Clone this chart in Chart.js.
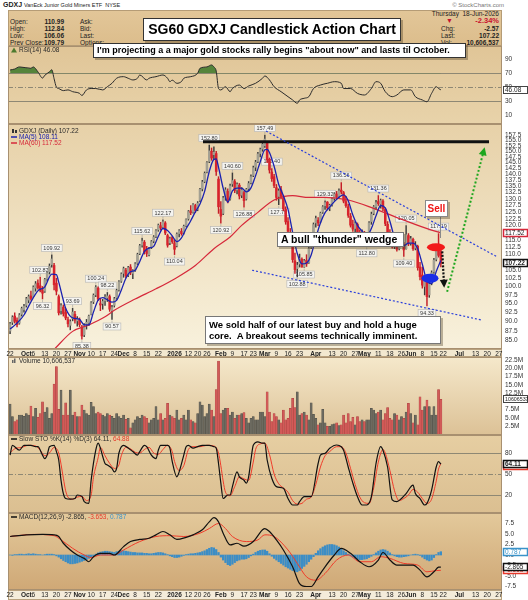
<!DOCTYPE html>
<html lang="en">
<head>
<meta charset="utf-8">
<title>SG60 GDXJ Candlestick Action Chart</title>
<script src="https://cdn.jsdelivr.net/npm/chart.js@4.4.1/dist/chart.umd.min.js"></script>
<style>
  body { margin: 0; width: 528px; height: 600px; position: relative; overflow: hidden; background: #fff;
         font-family: "Liberation Sans", Arial, Helvetica, sans-serif; color: #222; }
  canvas { position: absolute; left: 0; }
  .t { position: absolute; white-space: nowrap; font-size: 6.5px; line-height: 8px; }
  .b { font-weight: bold; }
  .note { position: absolute; background: #fff; border: 1px solid #333; box-shadow: 2px 2px 0 rgba(70,55,30,.35);
          font-weight: bold; color: #000; white-space: nowrap; box-sizing: border-box; z-index: 5; }
  #hdr { position: absolute; left: 8px; top: 10px; width: 494px; height: 36px; box-sizing: border-box;
         background: linear-gradient(#e2c698, #dcbd8c); border: 1px solid #b59c76; }
</style>
</head>
<body>

<!-- header -->
<div class="t" style="left:3px;top:1px;font-size:7px"><b>GDXJ</b> <span style="font-size:5.5px">VanEck Junior Gold Miners ETF&nbsp; NYSE</span></div>
<div class="t" style="right:24px;top:1px;font-size:6px;color:#777">© StockCharts.com</div>
<div id="hdr"></div>
<div class="t" style="left:10px;top:18px">Open:</div><div class="t b" style="left:36px;width:28px;top:18px;text-align:right">110.99</div>
<div class="t" style="left:10px;top:25px">High:</div><div class="t b" style="left:36px;width:28px;top:25px;text-align:right">112.84</div>
<div class="t" style="left:10px;top:32px">Low:</div><div class="t b" style="left:36px;width:28px;top:32px;text-align:right">106.06</div>
<div class="t" style="left:10px;top:39px">Prev Close:</div><div class="t b" style="left:36px;width:28px;top:39px;text-align:right">109.79</div>
<div class="t" style="left:80px;top:18px">Ask:</div>
<div class="t" style="left:80px;top:25px">Bid:</div>
<div class="t" style="left:80px;top:32px">Last:</div>
<div class="t" style="left:80px;top:39px">Options:</div>
<div class="t" style="right:29px;top:10px">Thursday&nbsp; 18-Jun-2026</div>
<div class="t" style="left:446px;top:17px;color:#c8102e;font-size:7px">▼</div>
<div class="t b" style="right:29px;top:17px;color:#c8102e;font-size:7.5px">-2.34%</div>
<div class="t" style="left:441px;top:25px">Chg:</div><div class="t b" style="right:29px;top:25px">-2.57</div>
<div class="t" style="left:441px;top:32px">Last:</div><div class="t b" style="right:29px;top:32px">107.22</div>
<div class="t" style="left:441px;top:39px">Vol:</div><div class="t b" style="right:29px;top:39px">10,606,537</div>

<!-- panels -->
<canvas id="rsi" width="528" height="88" style="top:41px"></canvas>
<canvas id="price" width="528" height="238" style="top:119px"></canvas>
<canvas id="vol" width="528" height="88" style="top:352px"></canvas>
<canvas id="sto" width="528" height="88" style="top:430px"></canvas>
<canvas id="macd" width="528" height="92" style="top:508px"></canvas>

<!-- notes drawn on the chart -->
<div class="note" style="left:143px;top:18px;width:258px;height:23px;font-size:14px;line-height:21px;text-align:center">SG60 GDXJ Candlestick Action Chart</div>
<div class="note" style="left:93px;top:43px;width:373px;height:15px;font-size:9px;line-height:13px;padding-left:3px">I'm projecting a a major gold stocks rally begins &quot;about now&quot; and lasts til October.</div>
<div class="note" style="left:277px;top:232px;width:127px;height:15px;font-size:10.5px;line-height:13px;padding-left:3px;border-color:#777">A bull &quot;thunder&quot; wedge</div>
<div class="note" style="left:205px;top:316px;width:236px;height:28px;font-size:9.5px;line-height:11px;padding:2px 0 0 3px;border-color:#777">We sold half of our latest buy and hold a huge<br>core.&nbsp; A breakout seems technically imminent.</div>
<div class="note" style="left:425px;top:200px;width:23px;height:17px;font-size:10px;line-height:15px;text-align:center;color:#f01414;border-color:#888">Sell</div>
<div style="position:absolute;left:440px;top:217px;width:1px;height:21px;background:#8a8a8a;z-index:4"></div>

<script>
// ---- daily GDXJ prices, 22-Sep-2025 .. 18-Jun-2026 (one entry per trading day)
const opens = [
  87.5, 89.8, 91.5, 90.3, 89.6, 92.0, 93.3, 94.5, 96.0, 97.2,
  97.0, 99.5, 101.0, 100.2, 99.0, 98.6, 102.3, 104.5, 106.8, 106.5,
  101.0, 97.0, 93.0, 94.0, 92.5, 90.5, 89.0, 90.8, 92.0, 90.2,
  90.5, 88.5, 86.5, 89.2, 89.6, 92.0, 95.5, 97.5, 99.5, 95.0,
  95.0, 95.8, 96.6, 97.0, 93.0, 94.5, 96.6, 99.0, 101.6, 104.0,
  105.0, 103.5, 106.0, 104.0, 105.0, 107.2, 110.4, 113.2, 114.2, 111.5,
  110.0, 112.3, 114.6, 116.2, 118.5, 120.0, 119.5, 121.0, 116.5, 114.0,
  115.8, 114.0, 113.0, 117.2, 118.0, 117.5, 120.0, 122.5, 125.5, 125.0,
  127.5, 126.0, 129.5, 134.0, 137.0, 141.0, 145.5, 150.0, 148.5, 149.0,
  138.0, 126.0, 124.5, 131.0, 133.0, 130.0, 136.0, 137.0, 133.6, 135.5,
  131.5, 132.5, 130.0, 134.0, 136.5, 139.5, 143.0, 145.5, 149.0, 151.0,
  152.5, 154.0, 146.5, 141.0, 139.0, 134.5, 131.0, 133.5, 130.5, 126.0,
  121.5, 117.5, 113.0, 108.0, 105.5, 107.0, 108.5, 106.0, 108.2, 107.5,
  112.5, 116.8, 121.0, 122.0, 121.5, 125.0, 127.4, 128.8, 126.5, 127.8,
  130.2, 132.0, 131.0, 133.5, 132.5, 129.0, 127.0, 123.5, 120.5, 119.0,
  120.5, 117.0, 116.0, 117.5, 115.0, 117.2, 121.5, 124.5, 127.0, 129.0,
  128.0, 129.2, 126.0, 120.5, 117.2, 114.6, 112.8, 113.6, 112.0, 114.0,
  113.5, 112.0, 116.5, 113.8, 115.2, 112.2, 112.8, 106.0, 103.5, 100.0,
  101.5, 97.5, 101.0, 104.5, 108.5, 113.0, 110.99
];
const highs = [
  89.8, 91.6, 92.4, 91.0, 92.2, 94.0, 94.8, 96.8, 97.5, 98.6,
  100.2, 101.5, 102.0, 102.87, 100.0, 102.5, 104.6, 107.0, 109.92, 107.2,
  102.5, 97.5, 95.0, 94.6, 93.5, 91.2, 90.5, 93.69, 92.8, 91.4,
  91.0, 89.0, 89.5, 90.6, 91.8, 95.6, 97.8, 100.24, 99.9, 96.5,
  96.2, 97.6, 98.22, 97.5, 94.5, 96.8, 99.2, 101.8, 104.2, 106.0,
  105.6, 106.2, 106.8, 105.2, 107.4, 110.5, 113.5, 115.62, 114.8, 112.8,
  112.5, 114.8, 116.5, 118.6, 120.6, 121.2, 122.17, 121.5, 117.0, 116.0,
  116.2, 115.0, 117.5, 118.6, 119.0, 120.2, 122.5, 125.6, 127.5, 128.2,
  128.0, 129.0, 134.2, 137.5, 141.0, 145.5, 152.8, 151.5, 152.0, 150.0,
  139.0, 129.0, 131.0, 134.5, 134.0, 136.0, 140.6, 137.8, 136.5, 136.2,
  134.5, 133.0, 134.2, 137.0, 139.8, 143.5, 146.0, 149.5, 151.5, 154.0,
  157.49, 154.5, 147.0, 142.4, 140.0, 135.8, 134.0, 135.0, 131.5, 127.0,
  123.0, 119.0, 114.0, 110.5, 107.5, 110.2, 109.0, 108.5, 110.0, 112.5,
  117.0, 121.0, 123.5, 123.0, 125.0, 127.5, 129.32, 129.0, 128.0, 130.5,
  132.5, 133.0, 134.0, 136.56, 133.0, 131.0, 128.0, 124.5, 122.0, 121.5,
  121.0, 118.5, 118.5, 118.0, 117.5, 121.5, 125.0, 127.5, 129.5, 131.36,
  130.0, 129.8, 126.5, 121.5, 118.6, 116.0, 114.8, 114.2, 114.4, 116.0,
  114.2, 120.05, 117.2, 116.2, 115.6, 114.4, 113.2, 107.5, 106.0, 103.0,
  102.0, 101.5, 104.8, 108.8, 113.0, 117.19, 112.84
];
const lows = [
  86.8, 89.2, 89.6, 88.6, 89.3, 91.5, 92.6, 94.0, 95.2, 96.0,
  96.8, 98.6, 99.2, 98.4, 96.32, 98.2, 101.6, 103.8, 106.0, 99.0,
  97.5, 91.8, 92.0, 91.5, 90.5, 88.6, 87.8, 90.2, 89.6, 88.8,
  88.6, 85.38, 86.0, 88.0, 89.0, 91.8, 95.0, 97.0, 95.8, 93.0,
  93.4, 94.5, 95.6, 92.8, 90.57, 94.0, 96.2, 98.6, 101.2, 102.8,
  102.6, 103.0, 103.6, 102.4, 104.6, 106.8, 110.0, 112.5, 110.2, 109.4,
  109.6, 112.0, 114.0, 115.8, 118.0, 118.5, 119.0, 116.8, 112.5, 113.4,
  113.8, 110.04, 112.6, 116.0, 116.6, 117.0, 119.6, 122.0, 124.0, 124.6,
  124.8, 125.5, 129.0, 133.2, 136.5, 140.6, 145.0, 146.0, 146.5, 139.5,
  124.5, 120.92, 124.0, 129.5, 128.5, 129.5, 135.0, 132.5, 132.0, 130.0,
  130.5, 126.88, 129.6, 133.2, 136.0, 139.0, 141.5, 145.0, 147.5, 150.0,
  151.8, 145.0, 140.5, 137.0, 134.5, 129.5, 127.79, 130.0, 125.5, 120.5,
  117.0, 113.0, 107.5, 104.0, 102.88, 106.0, 105.95, 105.85, 106.2, 107.2,
  112.0, 116.2, 119.5, 120.0, 121.0, 124.5, 126.0, 125.8, 125.5, 127.2,
  129.5, 130.0, 130.5, 132.0, 128.5, 126.8, 123.0, 119.5, 118.0, 117.8,
  116.0, 115.0, 114.6, 113.8, 112.8, 116.8, 120.5, 124.0, 126.0, 127.5,
  126.5, 125.5, 120.0, 116.2, 114.0, 112.2, 112.0, 111.2, 111.6, 113.2,
  109.4, 111.8, 113.0, 113.2, 111.4, 111.6, 105.0, 102.0, 99.5, 97.5,
  94.33, 96.8, 100.5, 104.0, 108.0, 109.2, 106.06
];
const closes = [
  89.4, 91.2, 90.1, 89.2, 91.8, 93.6, 94.2, 96.4, 97.0, 96.5,
  99.8, 100.8, 99.6, 98.9, 98.0, 102.1, 104.2, 106.3, 108.6, 100.5,
  98.6, 92.4, 94.4, 92.2, 91.0, 89.4, 90.0, 92.6, 90.4, 90.8,
  89.2, 86.2, 88.9, 89.8, 91.5, 95.2, 97.4, 99.8, 96.3, 94.6,
  95.6, 96.9, 97.2, 93.4, 93.9, 96.4, 98.8, 101.4, 103.8, 105.5,
  103.2, 105.8, 104.2, 104.8, 107.0, 110.1, 113.0, 114.6, 111.0, 110.4,
  112.0, 114.4, 116.0, 118.2, 120.2, 119.2, 121.4, 117.4, 113.2, 115.4,
  114.4, 111.8, 117.0, 118.2, 117.2, 119.8, 122.2, 125.2, 124.8, 127.8,
  125.6, 128.4, 133.8, 136.8, 140.4, 145.0, 150.2, 147.0, 149.6, 141.2,
  127.0, 123.5, 130.4, 133.6, 129.6, 135.2, 137.4, 133.4, 135.8, 131.2,
  133.6, 129.4, 133.8, 136.2, 139.0, 142.8, 145.2, 148.8, 150.8, 153.2,
  155.6, 146.2, 141.8, 138.2, 135.4, 130.6, 133.2, 131.0, 126.2, 121.4,
  118.0, 113.8, 108.4, 105.2, 106.6, 108.8, 106.0, 108.0, 107.0, 112.0,
  116.4, 120.4, 122.6, 121.0, 124.6, 127.0, 128.6, 126.6, 127.6, 130.0,
  132.0, 130.8, 133.2, 132.8, 129.2, 127.4, 123.8, 120.2, 118.8, 120.8,
  116.8, 116.0, 117.8, 115.0, 117.0, 121.0, 124.2, 127.0, 128.6, 128.2,
  129.4, 126.2, 120.8, 117.0, 114.8, 112.6, 113.8, 111.8, 113.6, 114.0,
  111.6, 116.8, 113.6, 115.4, 112.0, 113.4, 105.8, 103.0, 100.4, 102.2,
  97.0, 100.8, 104.2, 108.2, 112.6, 109.79, 107.22
];
// daily volume, millions of shares
const volumes = [
  9.2, 5.4, 3.9, 4.4, 5.9, 5.9, 5.5, 6.3, 5.9, 8.6,
  5.4, 7.9, 5.2, 6.3, 9.9, 6.8, 8.1, 4.9, 6.3, 15.2,
  20.5, 7.6, 13.4, 5.9, 9.6, 5.9, 13.4, 5.9, 6.8, 5.4,
  5.4, 8.9, 7.4, 6.3, 5.9, 9.7, 8.4, 6.3, 6.8, 6.3,
  5.9, 5.4, 6.3, 5.9, 5.5, 4.9, 6.3, 5.4, 4.9, 5.9,
  4.6, 4.9, 2.0, 3.5, 4.4, 5.4, 4.9, 5.9, 5.4, 4.9,
  3.5, 4.4, 4.9, 8.4, 4.4, 6.3, 4.4, 4.9, 9.4, 5.9,
  5.4, 4.9, 7.4, 4.4, 4.9, 5.9, 4.4, 7.4, 4.4, 3.9,
  3.5, 6.3, 9.9, 8.9, 5.4, 6.3, 9.2, 7.4, 5.4, 13.6,
  22.2, 6.3, 7.4, 7.9, 7.9, 5.9, 6.8, 4.9, 5.9, 5.9,
  6.3, 6.6, 4.9, 3.5, 4.9, 5.4, 4.4, 4.4, 6.8, 6.8,
  5.4, 12.9, 6.8, 3.9, 6.3, 5.4, 4.4, 3.5, 7.4, 4.4,
  4.9, 7.9, 10.9, 8.1, 12.9, 5.9, 6.3, 6.8, 5.9, 4.4,
  9.6, 6.1, 4.9, 2.9, 3.5, 7.6, 3.5, 2.5, 2.5, 3.0,
  3.2, 3.5, 2.7, 2.9, 5.9, 3.5, 6.3, 3.9, 5.2, 2.9,
  5.4, 3.9, 4.4, 3.9, 4.4, 4.4, 7.9, 7.4, 6.3, 6.8,
  7.4, 4.4, 6.3, 8.1, 4.9, 4.4, 6.3, 5.9, 4.4, 5.4,
  4.9, 6.8, 9.4, 6.3, 3.5, 5.9, 2.9, 11.4, 7.4, 8.4,
  10.4, 8.4, 5.9, 8.4, 5.9, 13.6, 10.6
];

// ---- overlays (trading-day index, value)
const ma5Idx = [0,3,6,9,12,15,18,20,21,24,27,30,32,34,36,38,40,42,44,46,48,50,52,54,56,58,60,62,64,66,68,70,72,74,76,78,80,82,84,86,88,89,90,92,94,96,98,100,102,104,106,108,110,111,112,114,116,118,120,122,124,126,128,130,132,134,136,138,140,142,144,146,148,150,152,154,156,158,160,162,164,166,168,170,172,174,176,178,180,182,184,186];
const ma5Val = [88.0,89.6,91.8,95.5,98.7,99.9,103.8,103.6,101.3,93.7,91.0,90.6,89.1,89.1,92.6,96.0,96.7,96.1,95.4,95.9,98.9,102.5,104.5,105.0,107.8,111.1,112.2,112.8,116.2,119.0,118.3,116.4,114.4,115.7,118.9,121.8,125.1,128.1,133.0,141.2,146.4,146.6,143.0,134.3,128.8,133.2,134.3,134.3,132.8,134.4,139.4,145.3,150.7,150.9,149.5,143.4,135.8,131.3,126.0,117.6,110.4,107.0,107.3,109.9,115.7,121.0,124.8,126.9,129.0,130.7,131.6,129.3,123.9,120.1,118.0,116.5,119.0,123.6,127.5,126.6,121.6,115.8,113.3,113.0,113.9,113.9,112.0,106.9,101.7,100.9,104.6,108.11];
const ma60Idx = [19,27,34,41,45,54,63,71,80,88,95,100,107,114,122,129,136,146,157,170,182,186];
const ma60Val = [82.8,87.4,89.1,91.3,93.1,96.3,99.3,102.3,106.5,112.0,116.0,120.1,124.9,129.6,131.3,130.6,130.6,129.6,126.4,122.0,118.4,117.52];

const rsiIdx = [0,2,4,9,10,12,14,15,17,18,19,20,21,23,25,27,30,31,33,35,37,40,42,44,46,49,51,53,55,56,59,60,63,66,68,69,70,72,74,75,78,81,82,85,87,88,89,90,91,93,95,96,99,101,103,106,109,110,112,114,117,120,122,124,125,127,129,131,134,137,140,143,144,147,150,153,156,158,160,162,165,167,170,173,175,178,180,182,184,185,186];
const rsiVal = [74.6,76,79,77,79,72,63,67,72,75,62,50,48,45,46,43.5,41,38,46,48,48,46,50.6,55.5,62.7,65,62.7,60.3,62.7,67.4,60.3,62.7,65,67.4,62.7,57.8,60,55.5,58,62.7,65,70,77,79,81.8,79,73,48,46,50.6,43.5,48,53,48,51.6,55.5,62.7,66,60.3,50.6,43.5,36.3,31.6,26.8,31.6,34,36.3,48,53,55.5,57.8,55.5,48,48,41,38.7,48,57.8,55.5,43.5,36.3,38.7,46,46,36.3,31.6,29,41,50.6,48,46.08];

const stoKIdx = [0,1,4,6,9,11,12,14,15,16,17,19,20,21,22,23,24,26,28,29,31,32,34,35,37,38,39,40,41,42,44,45,46,47,49,51,53,55,56,58,59,61,63,64,65,68,69,70,72,73,75,76,77,79,81,83,86,88,89,90,91,92,94,95,96,98,99,101,102,103,104,105,107,109,110,111,113,115,118,120,122,124,125,127,128,130,133,134,136,138,141,143,144,146,148,150,152,154,156,158,160,161,163,165,167,169,171,174,175,177,179,180,182,184,185,186];
const stoKVal = [77,91,84,91,91,89,89,77,72,77,89,91,82,70,41,22,15,14,15,20,18,10.5,8,41,84,94,87,75,65,63,58,53,58,80,91,87,82,77,82,91,89,77,72,84,91,91,87,68,46,53,77,89,91,87,89,91,91,89,87,65,37,15,20,20,32,53,46,41,37,46,70,91,96,94,94,70,44,32,29.5,15,5.7,5.7,10.5,17.6,17.6,17.6,65,77,79.5,86.7,91.4,89,84,60,37,17.6,5.7,5.7,17.6,65,89,84,60,13,10.5,15,22,34,22,15,5.7,8,27,60,67.6,64.11];
const stoDIdx = [0,2,5,8,11,13,15,17,19,21,22,23,24,25,27,29,31,33,35,36,38,39,41,43,45,47,48,50,52,54,56,58,60,62,64,66,68,70,71,73,75,77,79,82,85,88,90,91,92,93,95,97,99,101,103,105,106,108,110,112,114,116,118,120,122,124,126,128,130,132,134,136,138,141,143,145,147,149,151,153,155,157,159,161,162,164,166,168,170,172,174,176,178,180,182,184,185,186];
const stoDVal = [80,86,88,91,90,84,76,80,88,80,64,44,26,17,14,17,18,12,20,45,73,88,76,65,58,63,76,88,86,81,80,85,88,80,78,85,91,82,68,55,62,85,89,89,91,90,80,62,40,24,19,32,46,43,41,67,85,93,94,78,50,36,30,24,12,7,8,14,17,35,60,76,82,89,89,80,58,35,17,9,8,30,67,85,80,55,26,12,15,20,28,24,15,8,14,40,57,64.88];

const macdIdx = [0,7,14,19,21,23,26,29,32,34,36,39,43,45,49,52,56,60,63,66,69,72,76,79,83,86,88,90,92,95,98,101,105,109,110,112,115,118,122,125,128,130,133,136,140,143,147,151,155,159,161,164,167,171,174,177,180,183,185,186];
const macdVal = [4.4,4.8,4.9,4.8,4.4,2.8,1.2,0,-0.8,-1.6,-0.4,0.4,0.4,0,2,3.2,3.7,4,4.8,5.6,4.8,3.7,4.2,4.8,6,7.9,8.9,7.9,5.2,2.4,2.8,2.1,3.2,6,6.3,5.6,3.6,1.2,-2.8,-6.8,-7.5,-7.5,-5.2,-2.8,0,1.6,0.4,-1.6,-2.8,-1.2,0.6,-1.2,-2.4,-2.4,-2.4,-3.6,-5.2,-4,-2.9,-2.865];
const sigIdx = [0,10,19,22,27,32,35,39,45,49,56,63,69,75,82,86,90,93,96,102,107,110,114,120,124,128,132,136,141,146,151,156,160,164,170,176,180,184,186];
const sigVal = [4.4,4.9,4.6,3.6,1.6,0,-0.6,0,0,1.2,3.2,4.4,4.6,4.4,5.2,6.3,7.5,6.3,4.4,3.2,3.6,4.8,4.4,1.2,-2,-5.2,-6,-4.4,-1.2,0,-1.6,-1.6,-0.4,-0.8,-2,-2.4,-4,-3.7,-3.653];
const histVal = [
  0.0,-0.1,0.1,0.1,0.2,0.2,0.1,0.2,0.3,0.2,0.3,0.2,0.1,0.1,0.0,0.1,0.2,0.2,0.2,0.1,
  -0.2,-0.5,-0.9,-1.3,-1.6,-1.9,-2.1,-2.1,-2.0,-1.9,-1.7,-1.5,-1.3,-1.1,-0.8,-0.5,-0.2,
  0.2,0.5,0.7,0.8,0.9,0.9,0.8,0.7,0.6,0.8,0.9,1.0,1.0,0.9,0.8,0.7,0.6,0.6,0.5,0.5,0.5,0.4,0.4,0.3,
  0.3,0.4,0.5,0.6,0.6,0.5,0.3,0.1,
  -0.2,-0.4,-0.6,-0.6,-0.5,-0.3,-0.1,
  0.1,0.2,0.3,0.3,0.4,0.5,0.6,
  0.8,1.0,1.3,1.6,1.8,1.7,1.3,0.6,
  -0.5,-1.2,-1.8,-2.3,-2.5,-2.2,-1.8,
  -1.4,-1.2,-1.0,-1.0,-0.9,-0.6,-0.2,
  0.2,0.6,0.9,1.1,1.2,1.2,0.9,
  0.3,-0.3,-0.8,-1.2,-1.6,-2.0,-2.4,-2.8,-3.1,-3.4,-3.7,-3.9,-4.0,-3.7,-3.2,-2.7,
  -2.2,-1.6,-1.0,-0.4,
  0.4,1.0,1.5,1.9,2.2,2.4,2.5,2.5,2.4,2.2,1.9,1.5,1.0,0.6,0.2,
  -0.2,-0.5,-0.8,-1.0,-1.1,-1.1,-1.0,-0.9,-0.6,-0.3,
  0.1,0.5,0.9,1.2,1.3,1.2,0.9,0.5,0.1,
  -0.2,-0.4,-0.5,-0.5,-0.4,-0.3,-0.2,
  0.0,0.1,0.2,0.1,-0.1,
  -0.5,-0.9,-1.2,-1.4,-1.2,-0.6,
  0.1,0.6,0.79
];

// swing highs / lows that carry a value label
const hiMarkIdx = [13,18,27,37,42,57,66,86,96,110,113,136,143,159,171,185];
const loMarkIdx = [14,31,44,71,91,101,116,124,127,154,170,180];

// hand-drawn annotations, in (trading-day index, price)
const wedgeTop = [{x: 110.5, y: 159.4}, {x: 210.3, y: 109.3}];
const wedgeLow = [{x: 104.5, y: 105.0}, {x: 203.8, y: 90.4}];
const topLine = [{x: 83.3, y: 154.4}, {x: 206.8, y: 154.4}];
const greenArrow = [{x: 188.7, y: 98.4}, {x: 204.7, y: 151.0}];
const blackArrow = [{x: 186.6, y: 111.1}, {x: 187.4, y: 100.2}];

// ---- axis ticks
const tickIdx = [0,7,10,15,20,25,30,35,40,45,49,54,59,64,71,77,81,85,91,96,101,105,110,115,120,125,132,139,144,149,153,159,164,169,173,178,183,187,194,201,206,211];
const tickText = ['22','Oct','6','13','20','27','Nov','10','17','24','Dec','8','15','22','2026','12','20','26','Feb','9','17','23','Mar','9','16','23','Apr','13','20','27','May','11','18','26','Jun','8','15','22','Jul','13','20','27'];
const priceTicks = [85.0,87.5,90.0,92.5,95.0,97.5,100.0,102.5,105.0,107.5,110.0,112.5,115.0,117.5,120.0,122.5,125.0,127.5,130.0,132.5,135.0,137.5,140.0,142.5,145.0,147.5,150.0,152.5,155.0,157.5];
const rsiTicks = [10, 30, 50, 70, 90];
const volTicks = [2.5, 5, 7.5, 10, 12.5, 15, 17.5, 20, 22.5];
const stoTicks = [20, 50, 80];
const macdTicks = [-7.5, -5, -2.5, 0, 2.5, 5, 7.5];

const FONT = '"Liberation Sans", Arial, Helvetica, sans-serif';
const RED = '#d8232c', GRAY = '#a3a092', BLACK = '#1c1c1c';
const BLUE_MA = '#1b22b0', RED_MA = '#d6283a';

const pts = (xs, ys) => xs.map((x, k) => ({x, y: ys[k]}));

// StockCharts colouring: red when close < previous close, hollow when close > open
const candleColor = closes.map((c, i) => {
    const prev = i > 0 ? closes[i - 1] : opens[0];
    if (c < prev) return RED;
    return c >= opens[i] ? GRAY : BLACK;
});

// per-panel decoration, read by the plugin below
const panels = {
    rsi: {
        top: '#e0c597', bottom: '#e8d3aa', legendY: 4,
        guides: [{v: 70}, {v: 50, dash: [5, 2, 1, 2]}, {v: 30}],
        legend: [{icon: 'tri', ic: '#4d7a2e', parts: [{t: 'RSI(14) 46.08'}]}],
        tags: [{v: 46.08, t: '46.08'}]
    },
    price: {
        top: '#e7d1a8', bottom: '#f8f1dc', strip: '#f2e8d0', legendY: 7,
        legend: [
            {icon: 'candle', ic: '#333', parts: [{t: 'GDXJ (Daily) 107.22'}]},
            {icon: 'line', ic: BLUE_MA, parts: [{t: 'MA(5) 108.11', c: BLUE_MA}]},
            {icon: 'line', ic: RED_MA, parts: [{t: 'MA(60) 117.52', c: RED_MA}]}
        ],
        tags: [
            {v: 117.52, t: '117.52', s: '#d6283a'},
            {v: 107.22, t: '107.22', s: '#111', b: true}
        ],
        marks: true,
        ellipses: [
            {i: 183.9, v: 112.5, rx: 9, ry: 4, color: '#f21a1a'},
            {i: 181.3, v: 102.5, rx: 8.5, ry: 4.5, color: '#1a2de6'}
        ]
    },
    vol: {
        top: '#f5e8cb', bottom: '#dcc196', legendY: 4,
        legend: [{icon: 'bar', ic: '#666', parts: [{t: 'Volume 10,606,537'}]}],
        tags: [{v: 10.606537, t: '10606537', fs: 5.3}]
    },
    sto: {
        top: '#e6cea2', bottom: '#dbbf91', legendY: 4,
        guides: [{v: 80}, {v: 50, dash: [5, 2, 1, 2]}, {v: 20}],
        legend: [{icon: 'line', ic: '#111', parts: [{t: 'Slow STO %K(14) %D(3) 64.11, '}, {t: '64.88', c: '#e8382a'}]}],
        tags: [
            {v: 64.88, t: '64.88', s: '#e8382a', c: '#e8382a', dy: 2},
            {v: 64.11, t: '64.11', s: '#111', b: true}
        ]
    },
    macd: {
        top: '#e3c99b', bottom: '#cfa876', strip: '#f4ecda', legendY: 4,
        legend: [{icon: 'line', ic: '#111', parts: [{t: 'MACD(12,26,9) -2.865, '}, {t: '-3.653, ', c: '#e8382a'}, {t: '0.787', c: '#3a93c9'}]}],
        tags: [
            {v: 0.787, t: '0.787', s: '#3a93c9', c: '#3a93c9'},
            {v: -3.653, t: '-3.653', s: '#e8382a', c: '#e8382a'},
            {v: -2.865, t: '-2.865', s: '#111'}
        ]
    }
};

function drawIcon(ctx, kind, color, x, y) {
    ctx.fillStyle = color;
    ctx.strokeStyle = color;
    if (kind === 'line') {
        ctx.lineWidth = 1.5;
        ctx.beginPath(); ctx.moveTo(x, y); ctx.lineTo(x + 6, y); ctx.stroke();
    } else if (kind === 'tri') {
        ctx.beginPath(); ctx.moveTo(x, y + 2.5); ctx.lineTo(x + 3, y - 2.5); ctx.lineTo(x + 6, y + 2.5); ctx.fill();
    } else if (kind === 'candle') {
        ctx.fillRect(x + 1, y - 2, 2, 4); ctx.fillRect(x + 4, y - 1, 2, 3);
    } else {
        ctx.fillRect(x + 1, y - 1, 1.5, 3); ctx.fillRect(x + 3, y - 2.5, 1.5, 4.5);
    }
}

// value labels at swing highs and lows
function drawMarks(chart) {
    const {ctx} = chart, xs = chart.scales.x, ys = chart.scales.y;
    ctx.save();
    ctx.font = '5.5px ' + FONT;
    ctx.textAlign = 'center';
    ctx.textBaseline = 'middle';
    ctx.lineWidth = 0.6;
    const put = (i, v, up) => {
        const t = v.toFixed(2);
        const px = xs.getPixelForValue(i), py = ys.getPixelForValue(v);
        const cy = up ? py - 7 : py + 7;
        const w = ctx.measureText(t).width + 4;
        ctx.strokeStyle = '#9a9a9a';
        ctx.beginPath(); ctx.moveTo(px, py + (up ? -1 : 1)); ctx.lineTo(px, cy + (up ? 3 : -3)); ctx.stroke();
        ctx.fillStyle = 'rgba(244,244,242,0.95)';
        ctx.fillRect(px - w / 2, cy - 3.5, w, 7);
        ctx.strokeStyle = '#b5b5b5';
        ctx.strokeRect(px - w / 2, cy - 3.5, w, 7);
        ctx.fillStyle = '#3a3a3a';
        ctx.fillText(t, px, cy + 0.3);
    };
    hiMarkIdx.forEach(i => put(i, highs[i], true));
    loMarkIdx.forEach(i => put(i, lows[i], false));
    ctx.restore();
}

const panelPlugin = {
    id: 'panel',
    beforeDraw(chart) {
        const p = panels[chart.canvas.id];
        const {ctx, chartArea: a} = chart;
        ctx.save();
        const g = ctx.createLinearGradient(0, a.top, 0, a.bottom);
        g.addColorStop(0, p.top);
        g.addColorStop(1, p.bottom);
        ctx.fillStyle = g;
        ctx.fillRect(a.left, a.top, a.right - a.left, a.bottom - a.top);
        if (p.strip) {
            ctx.fillStyle = p.strip;
            ctx.fillRect(a.left, a.bottom, a.right - a.left, chart.height - a.bottom);
            ctx.strokeStyle = '#b9a27e';
            ctx.strokeRect(a.left + 0.5, a.bottom + 0.5, a.right - a.left - 1, chart.height - a.bottom - 1);
        }
        const ys = chart.scales.y;
        (p.guides || []).forEach(gd => {
            const py = Math.round(ys.getPixelForValue(gd.v)) + 0.5;
            ctx.strokeStyle = '#8e8874';
            ctx.lineWidth = 1;
            ctx.setLineDash(gd.dash || []);
            ctx.beginPath(); ctx.moveTo(a.left, py); ctx.lineTo(a.right, py); ctx.stroke();
        });
        ctx.restore();
    },
    beforeDatasetsDraw(chart) {
        if (panels[chart.canvas.id].marks) drawMarks(chart);
    },
    afterDatasetsDraw(chart) {
        const p = panels[chart.canvas.id];
        const {ctx} = chart, xs = chart.scales.x, ys = chart.scales.y;
        ctx.save();
        (p.ellipses || []).forEach(e => {
            ctx.fillStyle = e.color;
            ctx.beginPath();
            ctx.ellipse(xs.getPixelForValue(e.i), ys.getPixelForValue(e.v), e.rx, e.ry, 0, 0, Math.PI * 2);
            ctx.fill();
        });
        // arrow heads on the drawn arrows
        chart.data.datasets.forEach((ds, k) => {
            if (!ds.arrow) return;
            const el = chart.getDatasetMeta(k).data;
            const a = el[el.length - 2], b = el[el.length - 1];
            ctx.save();
            ctx.fillStyle = ds.borderColor;
            ctx.translate(b.x, b.y);
            ctx.rotate(Math.atan2(b.y - a.y, b.x - a.x));
            ctx.beginPath(); ctx.moveTo(2, 0); ctx.lineTo(-6, -4); ctx.lineTo(-6, 4); ctx.closePath(); ctx.fill();
            ctx.restore();
        });
        ctx.restore();
    },
    afterDraw(chart) {
        const p = panels[chart.canvas.id];
        const {ctx, chartArea: a} = chart;
        ctx.save();
        ctx.strokeStyle = '#a89070';
        ctx.lineWidth = 1;
        ctx.strokeRect(Math.round(a.left) + 0.5, Math.round(a.top) + 0.5, Math.round(a.right - a.left) - 1, Math.round(a.bottom - a.top) - 1);

        ctx.textBaseline = 'middle';
        ctx.textAlign = 'left';
        p.legend.forEach((row, r) => {
            const y = a.top + p.legendY + r * 6;
            let x = a.left + 3;
            drawIcon(ctx, row.icon, row.ic, x, y);
            x += 8;
            ctx.font = '6.5px ' + FONT;
            row.parts.forEach(s => {
                ctx.fillStyle = s.c || '#2a2a2a';
                ctx.fillText(s.t, x, y);
                x += ctx.measureText(s.t).width;
            });
        });

        const ys = chart.scales.y;
        p.tags.forEach(tg => {
            const y = Math.round(ys.getPixelForValue(tg.v)) + (tg.dy || 0);
            const x = Math.round(a.right) + 1;
            ctx.fillStyle = '#fff';
            ctx.fillRect(x, y - 4, 25, 8);
            ctx.strokeStyle = tg.s || '#444';
            ctx.strokeRect(x + 0.5, y - 3.5, 24, 7);
            ctx.fillStyle = tg.c || '#1e1e1e';
            ctx.font = (tg.b ? 'bold ' : '') + (tg.fs || 6.5) + 'px ' + FONT;
            ctx.fillText(tg.t, x + 2, y + 0.5);
        });
        ctx.restore();
    }
};
Chart.register(panelPlugin);

function xAxis(show, h) {
    return {
        type: 'linear', min: -0.9, max: 212.4, offset: false, display: show,
        grid: {display: false, drawTicks: false}, border: {display: false},
        afterBuildTicks: s => { s.ticks = tickIdx.map(v => ({value: v})); },
        afterFit: s => { s.height = h; s.paddingLeft = 0; s.paddingRight = 0; },
        ticks: {
            autoSkip: false, maxRotation: 0, minRotation: 0, padding: 1, color: '#222',
            font: c => ({size: 6.5, family: FONT,
                weight: (tickText[c.index] || '').length > 2 ? 'bold' : 'normal'}),
            callback: (v, k) => tickText[k]
        }
    };
}

function yAxis(type, min, max, ticks, fmt) {
    return {
        type, position: 'right', min, max,
        grid: {display: false, drawTicks: false}, border: {display: false},
        afterBuildTicks: s => { s.ticks = ticks.map(v => ({value: v})); },
        afterFit: s => { s.width = 26; s.paddingTop = 0; s.paddingBottom = 0; },
        ticks: {autoSkip: false, padding: 3, color: '#333', font: {size: 6.5, family: FONT}, callback: fmt}
    };
}

function makeChart(id, datasets, y, showX, xH) {
    return new Chart(document.getElementById(id), {
        type: 'bar',
        data: {datasets},
        options: {
            responsive: false, animation: false, devicePixelRatio: 1, events: [],
            layout: {padding: {left: 8, right: 0, top: 5, bottom: showX ? 0 : 5}},
            plugins: {legend: {display: false}, tooltip: {enabled: false}},
            scales: {x: xAxis(showX, xH), y}
        }
    });
}

const lineDs = (data, color, width, order, extra) => Object.assign({
    type: 'line', data, borderColor: color, borderWidth: width, pointRadius: 0,
    cubicInterpolationMode: 'monotone', fill: false, order
}, extra || {});

// ---- RSI
makeChart('rsi', [
    lineDs(pts(rsiIdx, rsiVal), '#2b2b2b', 1, 1, {
        fill: {target: {value: 70}, above: '#55843a', below: 'rgba(0,0,0,0)'}
    })
], yAxis('linear', -2.9, 109, rsiTicks, v => String(v)), false, 0);

// ---- price
const wickColor = candleColor.map(c => c === RED ? '#c41e27' : '#3c3c3c');
makeChart('price', [
    lineDs(greenArrow, '#1ea61e', 2, 1, {borderDash: [2, 2], cubicInterpolationMode: 'default', arrow: true}),
    lineDs(blackArrow, '#111', 2.2, 1, {borderDash: [2, 1.5], cubicInterpolationMode: 'default', arrow: true}),
    lineDs(wedgeTop, '#2a3fdc', 1.2, 2, {borderDash: [2, 2], cubicInterpolationMode: 'default'}),
    lineDs(wedgeLow, '#2a3fdc', 1.2, 2, {borderDash: [2, 2], cubicInterpolationMode: 'default'}),
    lineDs(topLine, '#111', 3, 2, {cubicInterpolationMode: 'default'}),
    lineDs(pts(ma5Idx, ma5Val), BLUE_MA, 1.3, 3),
    lineDs(pts(ma60Idx, ma60Val), RED_MA, 1.2, 4),
    {
        data: closes.map((c, i) => {
            const lo = Math.min(opens[i], c), hi = Math.max(opens[i], c);
            return {x: i, y: hi - lo < 0.2 ? [c - 0.12, c + 0.12] : [lo, hi]};
        }),
        backgroundColor: candleColor, barThickness: 1.9, grouped: false, order: 5
    },
    {
        data: highs.map((h, i) => ({x: i, y: [lows[i], h]})),
        backgroundColor: wickColor, barThickness: 0.8, grouped: false, order: 6
    }
], yAxis('logarithmic', 82.9, 162.8, priceTicks, v => v.toFixed(1)), true, 8);

// ---- volume
makeChart('vol', [{
    data: volumes.map((v, i) => ({x: i, y: v})),
    backgroundColor: candleColor.map(c => c === RED ? '#d25a58' : '#6c6a60'),
    borderColor: candleColor.map(c => c === RED ? '#a8403e' : '#4e4c44'),
    borderWidth: {top: 0.5, left: 0.4, right: 0.4, bottom: 0},
    barThickness: 2.1, grouped: false
}], yAxis('linear', -0.15, 23.41, volTicks, v => v.toFixed(1) + 'M'), false, 0);

// ---- slow stochastics
makeChart('sto', [
    lineDs(pts(stoKIdx, stoKVal), '#111', 1.2, 1),
    lineDs(pts(stoDIdx, stoDVal), '#f03c2a', 1, 2)
], yAxis('linear', -5.7, 105.7, stoTicks, v => String(v)), false, 0);

// ---- MACD
makeChart('macd', [
    lineDs(pts(macdIdx, macdVal), '#111', 1.2, 1),
    lineDs(pts(sigIdx, sigVal), '#f03c2a', 1, 2),
    {
        data: histVal.map((h, i) => ({x: i, y: h})),
        backgroundColor: '#3b8dc6', barThickness: 1.6, grouped: false, order: 3
    }
], yAxis('linear', -8.33, 10, macdTicks, v => v.toFixed(1)), true, 10);
</script>
</body>
</html>
